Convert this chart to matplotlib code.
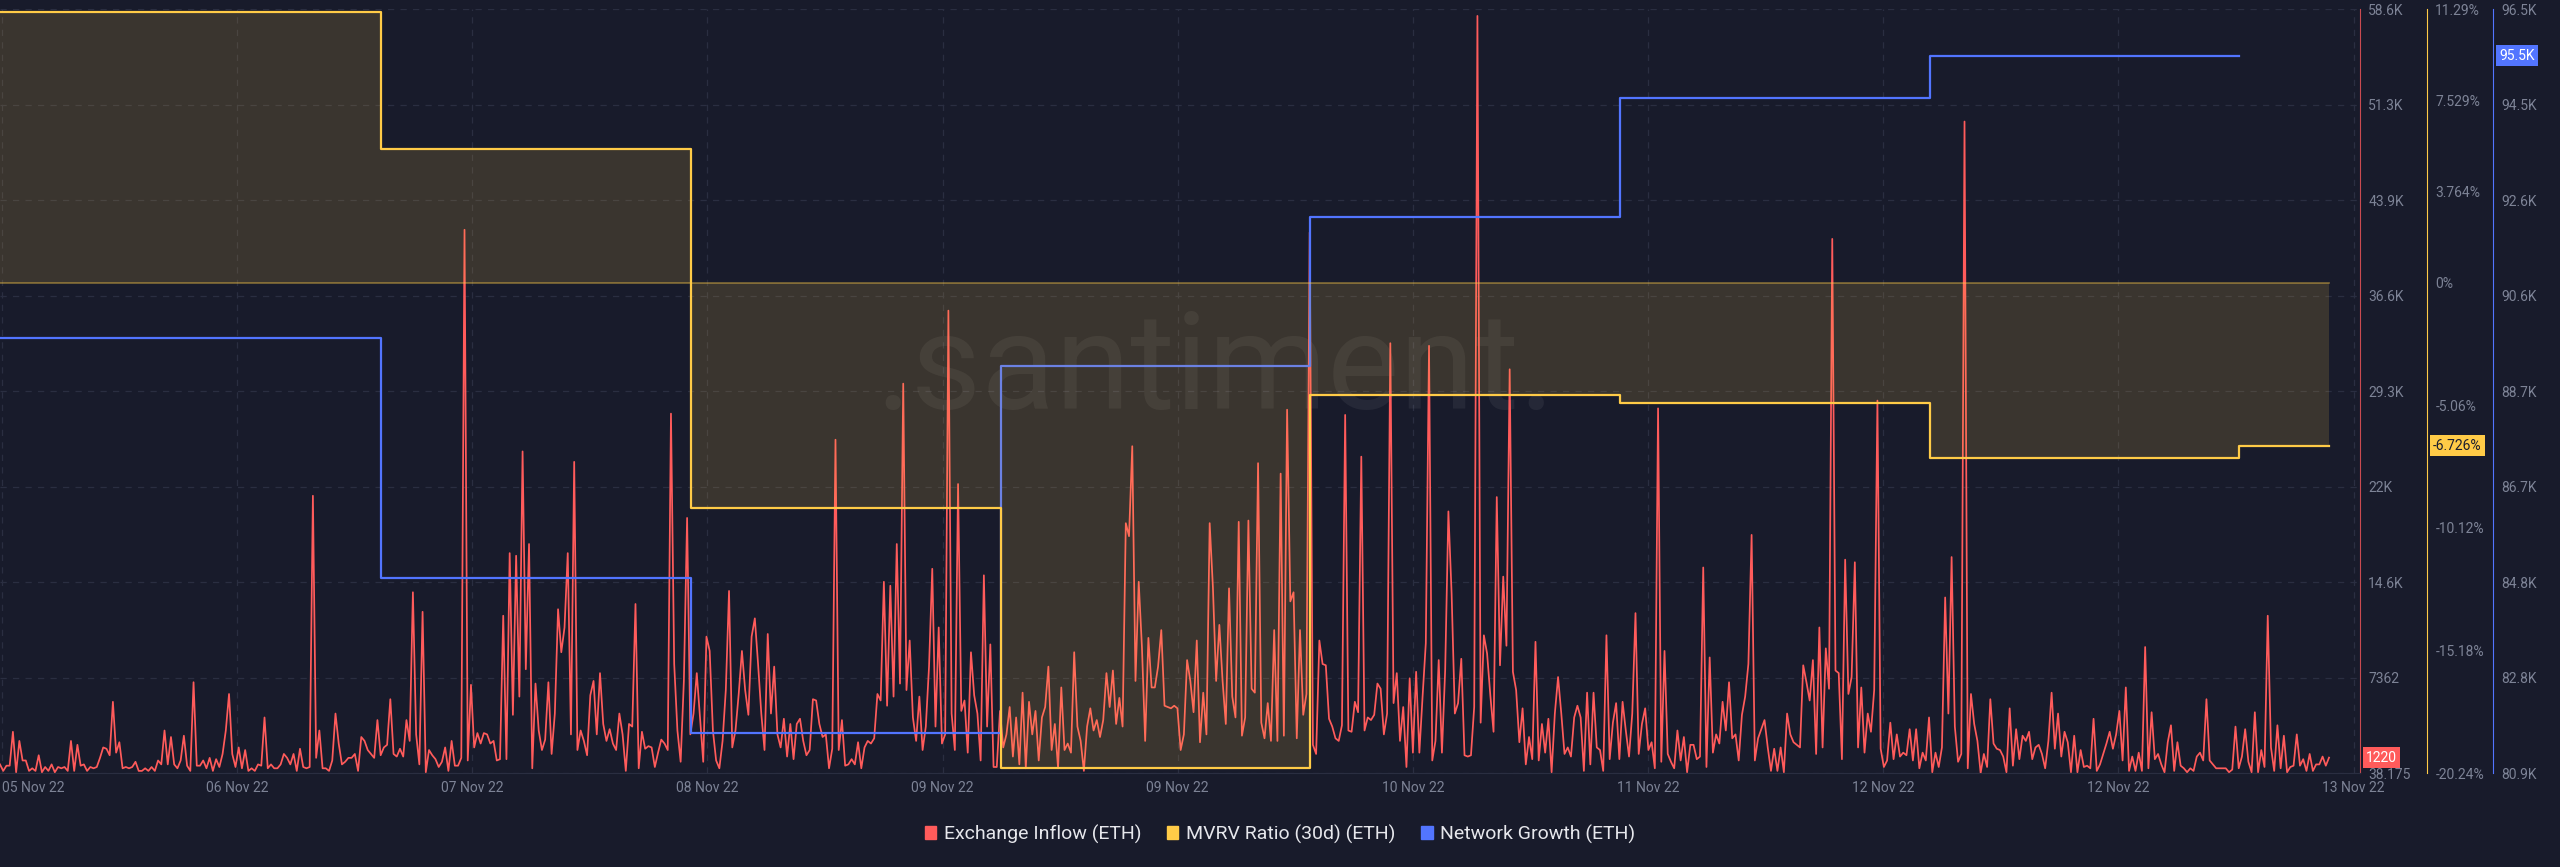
import numpy as np
import matplotlib.pyplot as plt
from matplotlib.patches import Patch

# Exchange Inflow (ETH), in thousands, one value every 15 minutes from the left edge
inflow = [
    0.7, 0.2, 0.6, 0.6, 3.2, 0.1, 2.5, 1.0, 1.0, 0.2,
    0.4, 0.2, 1.4, 0.1, 0.5, 0.2, 0.7, 0.1, 0.5, 0.4,
    0.5, 0.2, 2.5, 0.2, 2.2, 0.6, 0.7, 0.2, 0.5, 0.4,
    0.5, 1.2, 2.0, 1.9, 1.4, 5.5, 1.6, 2.4, 0.4, 0.5,
    0.4, 0.5, 0.9, 0.2, 0.2, 0.4, 0.2, 0.5, 0.2, 1.0,
    0.7, 3.3, 0.7, 2.8, 0.7, 0.4, 1.0, 2.9, 0.6, 0.2,
    7.0, 0.6, 0.6, 1.0, 0.4, 1.2, 0.2, 1.1, 0.5, 1.5,
    3.3, 6.1, 1.5, 0.5, 2.0, 0.4, 1.8, 0.2, 0.4, 0.2,
    0.7, 0.6, 4.3, 0.4, 0.7, 0.4, 0.4, 0.7, 1.5, 1.2,
    0.7, 1.5, 0.2, 1.9, 0.5, 0.4, 0.5, 21.3, 1.2, 3.3,
    0.4, 0.4, 0.2, 1.0, 4.6, 2.3, 0.7, 0.9, 1.2, 1.2,
    1.5, 0.2, 2.8, 2.5, 1.8, 1.5, 1.2, 4.1, 1.4, 2.0,
    2.2, 5.7, 1.5,
    # 06 - 07 Nov
    1.3, 1.9, 1.3, 4.1, 2.5, 13.9, 3.0, 0.7, 12.4, 0.1,
    1.8, 1.4, 1.1, 0.5, 0.9, 2.0, 0.2, 2.5, 0.6, 0.6, 1.2, 41.7,
    1.0, 6.8, 2.0, 3.1, 2.3, 3.1, 3.0, 2.3, 2.5, 1.0,
    1.1, 12.1, 1.1, 16.9, 4.5, 16.7, 5.9, 24.7, 8.0, 17.6,
    0.4, 6.9, 3.3, 1.8, 2.6, 7.0, 1.5, 4.6, 12.6, 9.3,
    11.2, 16.9, 3.0, 23.9, 1.8, 3.3, 2.5, 1.4, 6.0, 7.1, 3.0,
    7.7, 3.8, 2.5, 3.4, 2.3, 1.8, 4.6, 3.0, 0.2, 3.8,
    3.6, 13.0, 0.4, 3.2, 1.9, 2.1, 2.0, 0.5, 1.6, 2.6,
    2.3, 1.8, 27.6, 8.4, 3.3, 0.9, 7.1, 19.6, 3.0,
    4.6, 7.7, 4.3, 0.9, 10.5, 9.4, 3.3, 1.0, 0.4, 2.5,
    6.4, 14.0, 2.0, 3.3, 6.1, 9.4, 6.4, 4.5, 10.5, 11.9,
    8.4, 4.6, 1.8, 10.7, 4.6, 8.2, 3.0, 2.0, 4.2,
    # 08 - 09 Nov
    1.3, 3.8, 1.1, 3.8, 4.2, 2.5, 1.4, 1.8, 5.7, 5.6,
    3.8, 2.8, 3.0, 0.4, 1.9, 25.6, 1.8, 4.1, 0.6, 0.7,
    1.1, 0.7, 2.4, 0.4, 2.0, 2.5, 2.3, 2.7, 6.1, 5.6,
    14.7, 5.2, 14.4, 5.9, 17.6, 6.9, 29.9, 6.4, 10.2, 4.3,
    2.5, 5.9, 1.8, 3.6, 8.2, 15.7, 3.6, 11.2, 2.3, 3.0,
    35.5, 4.6, 1.8, 22.2, 4.8, 5.6, 1.6, 9.3, 6.0, 4.6,
    1.0, 15.2, 3.6, 9.9, 0.5, 0.5, 4.8, 2.0, 3.0, 5.1,
    1.3, 4.3, 0.7, 6.2, 0.4, 5.5, 3.0, 4.8, 1.0, 4.3,
    5.1, 8.2, 1.8, 3.8, 0.4, 6.6, 1.8, 2.3, 1.6, 9.3,
    3.6, 2.5, 0.2, 3.6, 5.0, 3.3, 4.1, 2.8, 4.1, 7.7,
    5.1, 7.9, 3.8, 5.8, 3.6, 19.2, 18.2, 25.1, 7.1, 14.7,
    9.7, 2.5, 10.4, 6.6, 6.6, 8.2, 11.0, 5.2, 5.1, 5.0,
    # 09 - 10 Nov
    5.2, 5.0, 1.8, 3.0, 8.7, 7.1, 4.7, 10.2, 2.4, 6.2,
    3.0, 19.2, 14.3, 7.1, 11.4, 7.1, 3.8, 14.2, 5.9, 4.3,
    19.3, 2.9, 4.3, 19.4, 6.5, 6.2, 23.8, 3.9, 2.7, 5.4,
    2.5, 11.0, 2.5, 23.0, 2.9, 27.9, 13.2, 13.9, 2.7, 11.0,
    4.5, 6.1, 41.5, 2.2, 1.5, 10.2, 8.4, 8.3, 4.2, 3.6,
    2.7, 2.5, 3.7, 27.5, 3.3, 3.2, 5.5, 4.7, 24.3, 3.3,
    4.3, 4.1, 4.5, 6.9, 6.5, 3.0, 4.6, 33.0, 5.4, 7.7,
    2.5, 5.1, 0.5, 7.3, 1.6, 7.8, 1.6, 5.9, 10.0, 32.8,
    1.0, 2.5, 8.7, 1.6, 7.9, 20.1, 13.8, 4.6, 5.4, 8.8,
    1.4, 1.3, 1.4, 5.1, 58.1, 3.9, 10.6, 9.2, 6.0, 3.2,
    21.2, 8.3, 15.1, 9.8, 31.0, 7.8, 6.4, 2.4, 5.0, 0.7,
    2.8, 1.1, 10.1, 1.0, 3.8, 1.6, 4.2, 0.1, 4.6, 7.4,
    4.6, 1.5, 2.0,
    # 11 - 12 Nov
    1.3, 4.3, 5.2, 4.3, 0.2, 6.2, 0.7, 6.2, 2.0, 1.8,
    0.2, 10.6, 1.1, 3.9, 5.4, 1.1, 5.5, 3.3, 1.3, 4.6,
    12.3, 1.5, 3.8, 5.0, 1.8, 2.4, 0.4, 28.0, 0.9, 9.4,
    1.5, 0.9, 0.4, 3.3, 1.0, 2.8, 0.1, 2.2, 2.2, 1.1,
    1.3, 15.8, 0.5, 8.9, 1.6, 3.0, 2.3, 5.5, 3.3, 7.0,
    2.7, 3.0, 1.0, 4.5, 5.9, 8.4, 18.3, 1.0, 2.7, 3.4,
    4.1, 2.0, 0.2, 1.9, 0.2, 2.0, 0.1, 4.6, 3.0, 2.4,
    2.2, 2.0, 8.3, 7.0, 5.6, 8.7, 1.5, 11.2, 2.0, 9.6,
    6.5, 41.0, 7.9, 7.7, 1.1, 16.4, 6.1, 7.4, 16.2, 2.0,
    6.6, 1.6, 4.6, 3.2, 6.4, 28.6, 1.9, 0.5, 1.0, 3.9,
    1.1, 3.0, 1.3, 1.6, 1.4, 3.4, 1.0, 3.4, 0.4, 1.6,
    1.0, 4.3, 0.1, 1.6, 0.5, 2.0, 13.5, 4.6, 16.6, 3.6,
    0.9, 1.5,
    # 12 - 13 Nov
    50.0, 0.4, 6.1, 3.8, 2.5, 0.038, 1.5, 0.5, 5.7, 2.3,
    1.9, 1.8, 1.3, 0.1, 5.0, 0.6, 3.4, 1.1, 2.9, 2.5,
    3.2, 1.1, 2.0, 2.2, 1.5, 0.4, 2.5, 6.2, 1.9, 4.6,
    1.3, 3.2, 2.4, 0.1, 2.9, 0.1, 1.8, 0.5, 0.6, 0.4,
    4.2, 0.2, 0.7, 1.5, 2.3, 3.2, 1.9, 3.0, 4.8, 1.0,
    6.6, 0.2, 1.3, 0.2, 1.6, 0.2, 9.7, 0.4, 4.7, 1.1,
    1.5, 0.7, 0.1, 2.4, 3.7, 0.2, 2.4, 0.6, 0.4, 0.1,
    0.4, 0.2, 1.3, 1.6, 1.0, 5.7, 1.0, 0.7, 0.4, 0.4,
    0.4, 0.4, 0.1, 0.3, 3.6, 0.4, 1.3, 3.4, 0.9, 0.1,
    4.7, 0.1, 1.8, 0.5, 12.1, 2.0, 0.2, 3.7, 0.4, 2.9,
    0.1, 0.5, 0.6, 3.0, 0.6, 1.1, 0.2, 1.5, 0.2, 0.7,
    0.7, 1.3, 0.6, 1.22,
]
inflow_step_h = 0.25

# daily metrics, each value holds from its start hour to the next one
mvrv_start_h = [0, 29.55, 53.55, 77.55, 101.55, 125.55, 149.55, 173.55]
mvrv_pct = [11.17, 5.5, -9.31, -20.05, -4.64, -4.95, -7.25, -6.726]
mvrv_end_h = 180.5

growth_start_h = [0, 29.55, 53.55, 77.55, 101.55, 125.55, 149.55]
growth_k = [89.78, 84.88, 81.71, 89.22, 92.25, 94.68, 95.55]
growth_end_h = 173.55

date_labels = ['05 Nov 22', '06 Nov 22', '07 Nov 22', '08 Nov 22', '09 Nov 22', '09 Nov 22',
               '10 Nov 22', '11 Nov 22', '12 Nov 22', '12 Nov 22', '13 Nov 22']
inflow_range = (0.038175, 58.63)
inflow_labels = ['38.175', '7362', '14.6K', '22K', '29.3K', '36.6K', '43.9K', '51.3K', '58.6K']
mvrv_range = (-20.24, 11.29)
mvrv_tick_vals = [-20.24, -15.18, -10.12, -5.06, 0, 3.764, 7.529, 11.29]
mvrv_labels = ['-20.24%', '-15.18%', '-10.12%', '-5.06%', '0%', '3.764%', '7.529%', '11.29%']
growth_range = (80.9, 96.5)
growth_labels = ['80.9K', '82.8K', '84.8K', '86.7K', '88.7K', '90.6K', '92.6K', '94.5K', '96.5K']
legend_labels = ['Exchange Inflow (ETH)', 'MVRV Ratio (30d) (ETH)', 'Network Growth (ETH)']

BG = '#181b2b'
GRID = '#2a2e41'
TEXT = '#7d8396'
RED = '#ff5b5b'
YELLOW = '#ffcb47'
BLUE = '#5275ff'

plt.rcParams['font.family'] = ['Roboto', 'DejaVu Sans']

fig = plt.figure(figsize=(25.6, 8.67), dpi=100, facecolor=BG)
plot_w = 2360 / 2560
ax = fig.add_axes([0, 0.1084, plot_w, 0.8812])
ax.set_facecolor(BG)
ax_ng = ax.twinx()
ax_mvrv = ax.twinx()
ax.yaxis.tick_right()

# exchange inflow
t = np.arange(len(inflow)) * inflow_step_h
ax.plot(t, inflow, color=RED, lw=1.25, zorder=3)

# network growth
gx = growth_start_h + [growth_end_h]
gy = growth_k + [growth_k[-1]]
ax_ng.step(gx, gy, where='post', color=BLUE, lw=1.6)

# mvrv with area to zero
mx = mvrv_start_h + [mvrv_end_h]
my = mvrv_pct + [mvrv_pct[-1]]
ax_mvrv.fill_between(mx, my, 0, step='post', color=YELLOW, alpha=0.15, lw=0)
ax_mvrv.plot([mx[0], mx[-1]], [0, 0], color=YELLOW, alpha=0.45, lw=1.2)
ax_mvrv.step(mx, my, where='post', color=YELLOW, lw=1.6)

ax.set_xlim(0, 182.9)
ax.set_ylim(*inflow_range)
ax_mvrv.set_ylim(*mvrv_range)
ax_ng.set_ylim(*growth_range)

ax.set_yticks(np.linspace(*inflow_range, len(inflow_labels)), inflow_labels)
ax_mvrv.set_yticks(mvrv_tick_vals, mvrv_labels)
ax_ng.set_yticks(np.linspace(*growth_range, len(growth_labels)), growth_labels)
ax.set_xticks(np.linspace(0.15, 182.4, len(date_labels)), date_labels)
ax.get_xticklabels()[0].set_horizontalalignment('left')

ax.grid(True, color=GRID, ls=(0, (5, 5)), lw=0.9)
ax.set_axisbelow(True)

for a in (ax, ax_ng, ax_mvrv):
    a.spines['left'].set_visible(False)
    a.spines['top'].set_visible(False)
    a.tick_params(axis='y', length=0, pad=6, colors=TEXT, labelsize=10)
ax_ng.spines['bottom'].set_visible(False)
ax_mvrv.spines['bottom'].set_visible(False)
ax.spines['bottom'].set_color(GRID)
ax.tick_params(axis='x', length=0, pad=6, colors=TEXT, labelsize=10)

mvrv_spine = 2427 / 2360
ng_spine = 2493 / 2360
ax.spines['right'].set_color('#c94a50')
ax_mvrv.spines['right'].set_position(('axes', mvrv_spine))
ax_mvrv.spines['right'].set_color(YELLOW)
ax_ng.spines['right'].set_position(('axes', ng_spine))
ax_ng.spines['right'].set_color(BLUE)

# last-value badges
def badge(a, xfrac, y, text, fc, tc):
    a.annotate(text, xy=(xfrac, y), xycoords=('axes fraction', 'data'),
               xytext=(6, 0), textcoords='offset pixels', ha='left', va='center',
               fontsize=10, color=tc, annotation_clip=False, zorder=10,
               bbox=dict(boxstyle='square,pad=0.25', fc=fc, ec='none'))

badge(ax, 1.0, inflow[-1], '1220', RED, 'white')
badge(ax_mvrv, mvrv_spine, mvrv_pct[-1], '-6.726%', YELLOW, '#1b1e2e')
badge(ax_ng, ng_spine, growth_k[-1], '95.5K', BLUE, 'white')

ax.text(0.515, 0.525, '.santiment.', transform=ax.transAxes, ha='center', va='center',
        fontsize=98, color='white', alpha=0.06, fontweight='normal', zorder=1)

handles = [Patch(color=c) for c in (RED, YELLOW, BLUE)]
fig.legend(handles, legend_labels, loc='center', bbox_to_anchor=(0.5, 0.038), ncol=3,
           frameon=False, fontsize=14, labelcolor='#e6e7ec', handlelength=0.6,
           handleheight=0.6, handletextpad=0.4, columnspacing=1.3)

fig.savefig('out.png', dpi=100, facecolor=BG)
